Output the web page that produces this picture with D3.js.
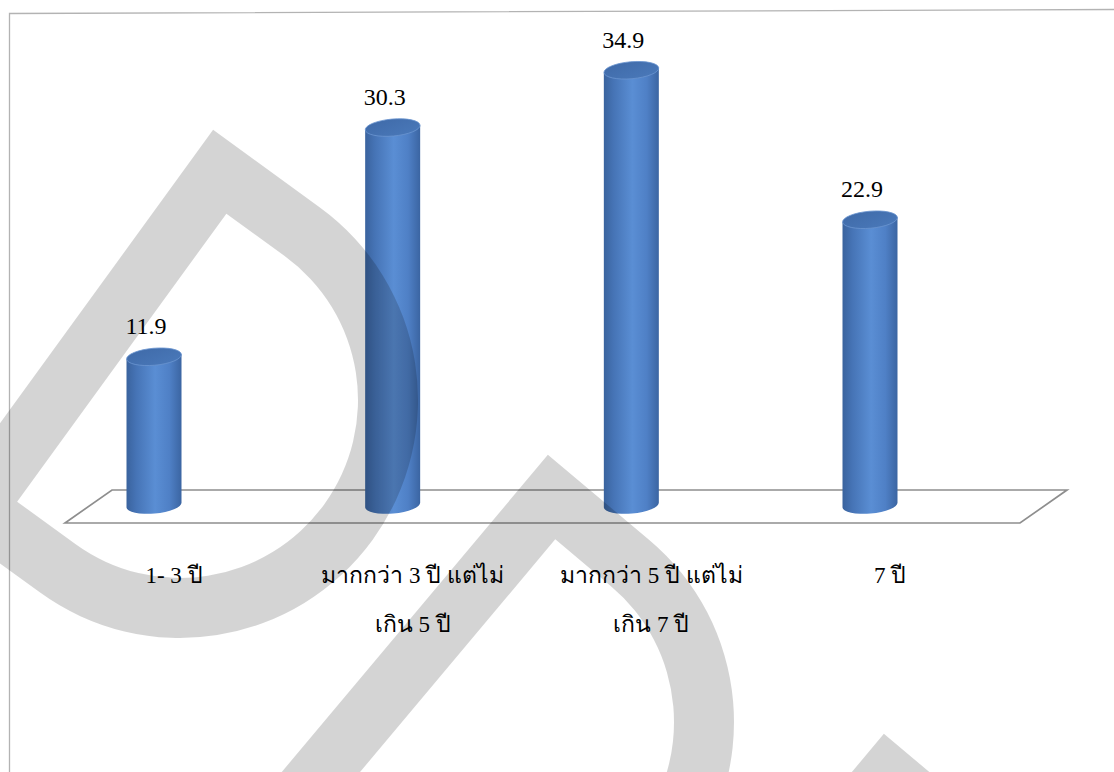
<!DOCTYPE html>
<html>
<head>
<meta charset="utf-8">
<script src="https://cdn.jsdelivr.net/npm/d3@7"></script>
<style>
  html, body { margin: 0; padding: 0; background: #ffffff; }
  svg { display: block; }
</style>
</head>
<body>
<svg id="chart" width="1114" height="772"></svg>
<script>
// Years of service (percent of respondents)
const categories = ["1- 3 ปี", "มากกว่า 3 ปี แต่ไม่เกิน 5 ปี", "มากกว่า 5 ปี แต่ไม่เกิน 7 ปี", "7 ปี"];
const categoryLines = [["1- 3 ปี"], ["มากกว่า 3 ปี แต่ไม่", "เกิน 5 ปี"], ["มากกว่า 5 ปี แต่ไม่", "เกิน 7 ปี"], ["7 ปี"]];
const values = [11.9, 30.3, 34.9, 22.9];
const valueLabels = ["11.9", "30.3", "34.9", "22.9"];

const SERIF = "Liberation Serif";
const svg = d3.select("#chart");
const defs = svg.append("defs");

// scales
const x = d3.scalePoint().domain(categories).range([154, 870]);
const y = d3.scaleLinear().domain([0, 35]).range([505, 69]);

// chart frame
svg.append("path")
  .attr("d", "M9.5,790 L9.5,13.5 L1120,9.5")
  .attr("fill", "none").attr("stroke", "#b3b3b3").attr("stroke-width", 1.3);

// floor plane
const floor = { backY: 490, frontY: 523, backL: 112, backR: 1067, frontL: 65, frontR: 1020 };
svg.append("path")
  .attr("d", `M${floor.frontL},${floor.frontY} L${floor.backL},${floor.backY} L${floor.backR},${floor.backY} L${floor.frontR},${floor.frontY} Z`)
  .attr("fill", "none").attr("stroke", "#8e8e8e").attr("stroke-width", 1.7)
  .attr("stroke-linejoin", "miter");

// cylinder shading
const g = defs.append("linearGradient").attr("id", "cyl").attr("x1", "0").attr("x2", "1").attr("y1", "0").attr("y2", "0");
[["0%", "#3a639e"], ["18%", "#4674b6"], ["52%", "#5a8ed4"], ["78%", "#4f80c6"], ["100%", "#3b65a2"]]
  .forEach(([o, c]) => g.append("stop").attr("offset", o).attr("stop-color", c));
const gt = defs.append("linearGradient").attr("id", "cylTop").attr("x1", "0").attr("x2", "1").attr("y1", "0").attr("y2", "1");
[["0%", "#3f6aa8"], ["100%", "#4a79ba"]]
  .forEach(([o, c]) => gt.append("stop").attr("offset", o).attr("stop-color", c));

const rx = 27.5, ry = 8.5, tilt = -5;
const dy = rx * Math.sin(-tilt * Math.PI / 180);
const bars = svg.append("g");
categories.forEach((c, i) => {
  const cx = x(c), yT = y(values[i]), yB = y(0);
  bars.append("path")
    .attr("d", `M${cx - rx},${yT + dy} L${cx - rx},${yB + dy} A${rx},${ry} ${tilt} 0 0 ${cx + rx},${yB - dy} L${cx + rx},${yT - dy} Z`)
    .attr("fill", "url(#cyl)");
  bars.append("ellipse")
    .attr("cx", cx).attr("cy", yT).attr("rx", rx).attr("ry", ry)
    .attr("transform", `rotate(${tilt},${cx},${yT})`)
    .attr("fill", "url(#cylTop)").attr("stroke", "#6a95d0").attr("stroke-width", 0.8);
});

// value labels
svg.append("g").selectAll("text").data(values).join("text")
  .attr("font-family", SERIF)
  .attr("fill", "#000")
  .attr("x", (d, i) => x(categories[i]) - 8)
  .attr("y", d => y(d) - ry - 14)
  .attr("text-anchor", "middle")
  .attr("font-size", 24)
  .text((d, i) => valueLabels[i]);

// category labels along the front of the floor; digits and hyphens set in the serif face
const catG = svg.append("g");
categories.forEach((c, i) => {
  categoryLines[i].forEach((line, j) => {
    const t = catG.append("text")
      .attr("font-family", SERIF)
      .attr("fill", "#000")
      .attr("x", x(c) + 20).attr("y", 583 + j * 49)
      .attr("text-anchor", "middle").attr("font-size", 23);
    line.split(/([0-9\-]+)/).filter(s => s.length).forEach(part => {
      t.append("tspan").text(part);
    });
  });
});

// background watermark: three ring shapes with a flat side and a round end
function ringPath(C, angDeg, r, h, t) {
  const a = angDeg * Math.PI / 180;
  const u = [Math.cos(a), Math.sin(a)], v = [Math.sin(a), -Math.cos(a)];
  const P = (p, q) => [C[0] + p * u[0] + q * v[0], C[1] + p * u[1] + q * v[1]];
  const outline = (R, back) => {
    const A = P(-back, R), B = P(0, R), M = P(R, 0), D = P(0, -R), E = P(-back, -R);
    return `M${A} L${B} A${R},${R} 0 0 1 ${M} A${R},${R} 0 0 1 ${D} L${E} Z`;
  };
  return outline(r + t, h + t) + " " + outline(r, h);
}
const wm = svg.append("g").attr("fill", "#000").attr("fill-opacity", 0.17).attr("fill-rule", "evenodd");
[[[180, 400], 36], [[496, 722], 40], [[832, 1001], 40]].forEach(([C, ang]) => {
  wm.append("path").attr("d", ringPath(C, ang, 178, 72, 60));
});
</script>
</body>
</html>
